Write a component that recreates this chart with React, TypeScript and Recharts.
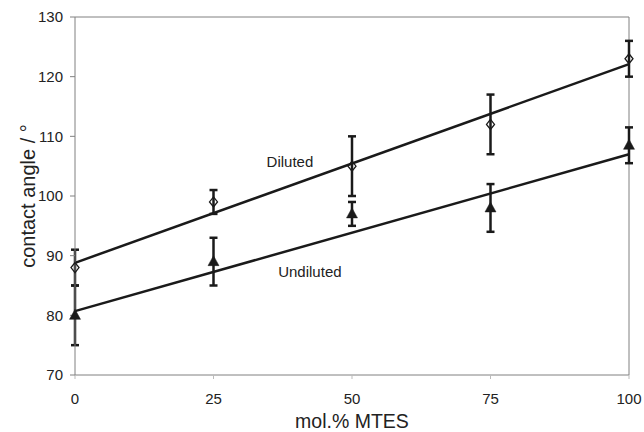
import React from 'react';
import {
  ComposedChart,
  XAxis,
  YAxis,
  Scatter,
  Line,
  ErrorBar,
  ReferenceLine,
  ReferenceDot,
} from 'recharts';

// Data
const molPercent = [0, 25, 50, 75, 100];
const dilutedAngle = [88, 99, 105, 112, 123];
const dilutedErr = [3, 2, 5, 5, 3];
const undilutedAngle = [80, 89, 97, 98, 108.5];
const undilutedErr = [5, 4, 2, 4, 3];

const trendX = [0, 100];
const dilutedTrend = [88.8, 122.1];
const undilutedTrend = [80.7, 107.0];

const xTicks = [0, 25, 50, 75, 100];
const yTicks = [70, 80, 90, 100, 110, 120, 130];

const seriesNames = ['Diluted', 'Undiluted'];
const labelPos = [
  { x: 38.8, y: 105.7 },
  { x: 42.4, y: 87.3 },
];

const dilutedData = molPercent.map((x, i) => ({ x, y: dilutedAngle[i], err: dilutedErr[i] }));
const undilutedData = molPercent.map((x, i) => ({ x, y: undilutedAngle[i], err: undilutedErr[i] }));
const dilutedTrendData = trendX.map((x, i) => ({ x, y: dilutedTrend[i] }));
const undilutedTrendData = trendX.map((x, i) => ({ x, y: undilutedTrend[i] }));

const INK = '#1a1a1a';
const GREY = '#808080';
const FONT = '"Liberation Sans", Arial, sans-serif';

const Diamond = (props: any) => {
  const { cx, cy } = props;
  if (cx == null || cy == null) return null;
  return (
    <path
      d={`M${cx},${cy - 5}L${cx + 4},${cy}L${cx},${cy + 5}L${cx - 4},${cy}Z`}
      fill="none"
      stroke={INK}
      strokeWidth={1.3}
    />
  );
};

const Triangle = (props: any) => {
  const { cx, cy } = props;
  if (cx == null || cy == null) return null;
  return (
    <path
      d={`M${cx},${cy - 6}L${cx + 5.5},${cy + 4}L${cx - 5.5},${cy + 4}Z`}
      fill={INK}
      stroke={INK}
      strokeWidth={0.5}
    />
  );
};

export default function App() {
  return (
    <div style={{ position: 'absolute', left: 0, top: 0, background: '#fff' }}>
      <ComposedChart
        width={644}
        height={432}
        margin={{ top: 17, right: 15, bottom: 0, left: 0 }}
        style={{ fontFamily: FONT }}
      >
        <XAxis
          type="number"
          dataKey="x"
          domain={[0, 100]}
          ticks={xTicks}
          interval={0}
          height={57}
          stroke={GREY}
          tickSize={4}
          tickMargin={14}
          tickLine={{ stroke: '#bbb' }}
          tick={{ fill: '#222', fontSize: 15 }}
          label={{
            value: 'mol.% MTES',
            position: 'insideBottom',
            offset: 4,
            fill: '#222',
            fontSize: 19.5,
          }}
        />
        <YAxis
          type="number"
          domain={[70, 130]}
          ticks={yTicks}
          interval={0}
          width={75}
          stroke={GREY}
          tickSize={5}
          tickMargin={7}
          tick={{ fill: '#222', fontSize: 15 }}
          label={{
            value: 'contact angle / °',
            angle: -90,
            position: 'center',
            dx: -10,
            fill: '#222',
            fontSize: 20,
          }}
        />
        <ReferenceLine y={130} stroke={GREY} strokeWidth={1} />
        <ReferenceLine x={100} stroke={GREY} strokeWidth={1} />
        <Line
          data={dilutedTrendData}
          dataKey="y"
          stroke={INK}
          strokeWidth={2.5}
          dot={false}
          activeDot={false}
          isAnimationActive={false}
        />
        <Line
          data={undilutedTrendData}
          dataKey="y"
          stroke={INK}
          strokeWidth={2.5}
          dot={false}
          activeDot={false}
          isAnimationActive={false}
        />
        <Scatter data={dilutedData} dataKey="y" shape={<Diamond />} isAnimationActive={false}>
          <ErrorBar dataKey="err" direction="y" width={4} stroke={INK} strokeWidth={2.5} />
        </Scatter>
        <Scatter data={undilutedData} dataKey="y" shape={<Triangle />} isAnimationActive={false}>
          <ErrorBar dataKey="err" direction="y" width={4} stroke={INK} strokeWidth={2.5} />
        </Scatter>
        {seriesNames.map((name, i) => (
          <ReferenceDot
            key={name}
            x={labelPos[i].x}
            y={labelPos[i].y}
            r={0}
            fill="none"
            stroke="none"
            label={{ value: name, position: 'center', fill: '#222', fontSize: 15 }}
          />
        ))}
      </ComposedChart>
    </div>
  );
}
